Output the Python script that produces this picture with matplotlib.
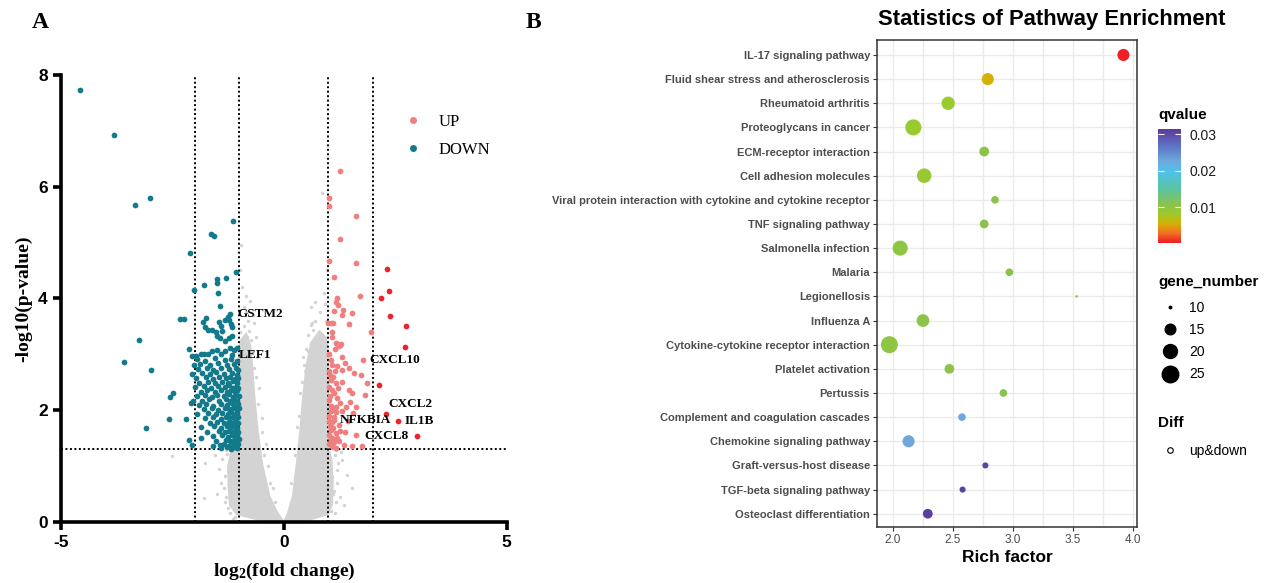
import numpy as np
import matplotlib.pyplot as plt
from matplotlib.colors import LinearSegmentedColormap, Normalize
from matplotlib.cm import ScalarMappable
from matplotlib.lines import Line2D

plt.rcParams["mathtext.fontset"] = "custom"
plt.rcParams["mathtext.rm"] = "Liberation Serif:bold"
plt.rcParams["mathtext.it"] = "Liberation Serif:bold"
plt.rcParams["mathtext.bf"] = "Liberation Serif:bold"
plt.rcParams["axes.unicode_minus"] = False

# ---------------- Panel A: volcano ----------------
down_points = [
    (-4.57, 7.73), (-3.81, 6.93), (-3.34, 5.68), (-3.01, 5.79), (-1.14, 5.38), (-1.63, 5.16), (-1.57, 5.12),
    (-2.10, 4.81), (-1.08, 4.48), (-1.29, 4.36), (-1.50, 4.34), (-1.50, 4.27), (-1.79, 4.24), (-2.01, 4.15),
    (-1.47, 4.10), (-1.44, 3.87), (-2.34, 3.63), (-2.24, 3.63), (-1.74, 3.65), (-1.20, 3.72), (-1.25, 3.66),
    (-1.31, 3.61), (-1.81, 3.57), (-1.76, 3.49), (-1.70, 3.44), (-1.62, 3.44), (-1.46, 3.58), (-1.42, 3.50),
    (-1.38, 3.42), (-1.23, 3.61), (-1.18, 3.54), (-1.16, 3.49), (-1.44, 3.29), (-1.23, 3.29), (-1.31, 3.23),
    (-1.16, 3.32), (-1.53, 3.40), (-1.50, 3.32), (-2.13, 3.09), (-1.12, 3.08), (-1.05, 3.11), (-2.05, 2.97),
    (-1.97, 2.96), (-1.86, 3.00), (-1.79, 3.01), (-1.70, 3.00), (-1.61, 3.05), (-1.50, 3.08), (-1.42, 3.00),
    (-1.31, 3.05), (-1.20, 3.11), (-1.17, 2.99),
    (-3.25, 3.26), (-3.59, 2.86), (-2.97, 2.71), (-2.49, 2.31), (-2.56, 2.23), (-2.58, 1.84), (-2.19, 1.84),
    (-2.09, 2.13), (-2.04, 2.17), (-3.09, 1.68), (-2.13, 1.47), (-2.07, 1.38), (-1.86, 1.50), (-1.60, 1.35),
    (-1.95, 2.91), (-1.78, 2.88), (-1.55, 2.93), (-1.33, 2.89), (-1.18, 2.92), (-1.05, 2.87),
    (-2.02, 2.80), (-1.88, 2.83), (-1.65, 2.81), (-1.48, 2.84), (-1.27, 2.80), (-1.12, 2.83),
    (-1.92, 2.73), (-1.72, 2.76), (-1.58, 2.72), (-1.40, 2.75), (-1.22, 2.73), (-1.08, 2.76), (-1.02, 2.71),
    (-2.05, 2.65), (-1.84, 2.67), (-1.66, 2.64), (-1.52, 2.68), (-1.35, 2.65), (-1.17, 2.67), (-1.06, 2.63),
    (-1.96, 2.57), (-1.75, 2.59), (-1.60, 2.56), (-1.45, 2.59), (-1.30, 2.57), (-1.20, 2.60), (-1.10, 2.56), (-1.03, 2.58),
    (-1.90, 2.49), (-1.70, 2.51), (-1.55, 2.48), (-1.38, 2.51), (-1.25, 2.49), (-1.13, 2.52), (-1.05, 2.48),
    (-2.00, 2.41), (-1.80, 2.43), (-1.63, 2.40), (-1.48, 2.43), (-1.32, 2.41), (-1.22, 2.44), (-1.15, 2.40), (-1.08, 2.42), (-1.02, 2.39),
    (-1.87, 2.33), (-1.72, 2.35), (-1.55, 2.32), (-1.40, 2.35), (-1.28, 2.33), (-1.18, 2.36), (-1.10, 2.32), (-1.04, 2.35),
    (-1.95, 2.25), (-1.78, 2.27), (-1.62, 2.24), (-1.50, 2.27), (-1.35, 2.25), (-1.24, 2.28), (-1.15, 2.24), (-1.07, 2.27), (-1.01, 2.25),
    (-1.83, 2.17), (-1.68, 2.19), (-1.45, 2.16), (-1.30, 2.19), (-1.20, 2.17), (-1.12, 2.20), (-1.05, 2.16),
    (-1.90, 2.09), (-1.74, 2.11), (-1.58, 2.08), (-1.40, 2.11), (-1.27, 2.09), (-1.17, 2.12), (-1.09, 2.08), (-1.03, 2.11),
    (-1.80, 2.01), (-1.62, 2.03), (-1.48, 2.00), (-1.33, 2.03), (-1.22, 2.01), (-1.14, 2.04), (-1.06, 2.00), (-1.01, 2.03),
    (-1.95, 1.93), (-1.70, 1.95), (-1.52, 1.92), (-1.38, 1.95), (-1.26, 1.93), (-1.18, 1.96), (-1.10, 1.92), (-1.04, 1.95),
    (-1.76, 1.85), (-1.58, 1.87), (-1.42, 1.84), (-1.30, 1.87), (-1.20, 1.85), (-1.13, 1.88), (-1.07, 1.84), (-1.02, 1.87),
    (-1.66, 1.77), (-1.50, 1.79), (-1.35, 1.76), (-1.24, 1.79), (-1.16, 1.77), (-1.09, 1.80), (-1.03, 1.76),
    (-1.85, 1.69), (-1.56, 1.71), (-1.40, 1.68), (-1.28, 1.71), (-1.19, 1.69), (-1.12, 1.72), (-1.05, 1.68),
    (-1.72, 1.61), (-1.46, 1.63), (-1.33, 1.60), (-1.22, 1.63), (-1.14, 1.61), (-1.08, 1.64), (-1.02, 1.60),
    (-1.60, 1.53), (-1.38, 1.55), (-1.26, 1.52), (-1.17, 1.55), (-1.10, 1.53), (-1.04, 1.56),
    (-1.52, 1.45), (-1.30, 1.47), (-1.20, 1.44), (-1.12, 1.47), (-1.06, 1.45), (-1.01, 1.48),
    (-1.44, 1.37), (-1.34, 1.39), (-1.24, 1.36), (-1.15, 1.39), (-1.08, 1.37), (-1.03, 1.40),
    (-1.40, 1.32), (-1.28, 1.33), (-1.18, 1.31), (-1.11, 1.33), (-1.05, 1.32),
]

up_points = [
    (1.27, 6.28), (1.01, 5.79), (1.01, 5.65), (1.61, 5.47), (1.26, 5.06), (1.01, 4.67), (1.61, 4.64),
    (1.12, 4.39), (1.70, 4.05), (1.19, 4.00), (1.17, 3.94), (1.22, 3.88), (1.32, 3.80), (1.31, 3.71),
    (1.52, 3.74), (1.13, 3.78), (1.46, 3.54), (1.05, 3.56), (1.10, 3.56), (1.08, 3.39), (1.07, 3.31),
    (1.20, 3.19), (1.29, 3.18), (1.23, 3.14), (1.14, 3.10), (1.96, 3.39), (1.31, 2.95), (1.05, 2.90),
    (1.77, 2.89), (1.08, 2.81), (1.19, 2.78), (1.31, 2.72), (1.46, 2.75), (1.57, 2.66), (1.72, 2.63),
    (1.05, 2.54), (1.16, 2.48), (1.31, 2.51), (1.87, 2.48), (1.08, 2.36), (1.46, 2.36), (1.53, 2.30),
    (1.83, 2.27), (1.01, 2.18), (1.20, 2.21), (1.27, 2.12), (1.49, 2.15), (1.05, 1.98), (1.16, 1.96),
    (1.31, 1.98), (1.01, 1.81), (1.08, 1.79), (1.12, 1.82), (1.23, 1.73), (1.05, 1.64), (1.16, 1.58),
    (1.38, 1.61), (1.61, 1.55), (1.05, 1.47), (1.23, 1.44), (1.34, 1.38), (1.53, 1.35), (1.75, 1.35),
    (1.08, 1.35), (1.16, 1.32), (1.02, 2.70), (1.03, 2.62), (1.10, 2.60), (1.02, 2.42), (1.12, 2.30),
    (1.03, 2.25), (1.06, 2.08), (1.10, 2.02), (1.02, 1.90), (1.12, 1.88), (1.04, 1.72), (1.10, 1.68),
    (1.02, 1.55), (1.09, 1.50), (1.02, 1.40), (1.12, 1.42), (1.20, 1.50), (1.25, 1.62), (1.18, 2.05),
    (1.22, 2.40), (1.14, 2.70), (1.40, 2.05), (1.38, 2.85), (1.62, 2.05), (1.45, 1.80), (1.55, 1.95),
    (1.00, 3.55), (1.16, 3.20), (1.27, 3.17), (1.02, 3.00), (1.10, 1.34),
]

strong_up_points = [
    (2.32, 4.52), (2.36, 4.14), (2.18, 4.00), (2.38, 3.69), (2.74, 3.51), (2.72, 3.12),
    (2.13, 2.45), (2.29, 1.93), (2.56, 1.81), (2.99, 1.53),
]

# dense cloud of non-significant genes: outline of each lobe (x, y)
cloud_left_x = [-0.04, -0.6, -1.05, -1.2, -1.23, -1.24, -1.17, -1.0, -1.0, -0.95, -0.85, -0.76,
                -0.72, -0.67, -0.60, -0.50, -0.33, -0.15, -0.04]
cloud_left_y = [0.0, 0.05, 0.14, 0.3, 0.6, 1.0, 1.25, 1.3, 3.0, 3.25, 3.35, 3.15,
                2.8, 2.24, 1.65, 1.05, 0.45, 0.15, 0.03]
cloud_right_x = [0.04, 0.6, 0.98, 1.07, 1.09, 1.06, 1.0, 0.99, 0.93, 0.8, 0.62,
                 0.52, 0.44, 0.38, 0.30, 0.21, 0.10, 0.03]
cloud_right_y = [0.0, 0.05, 0.14, 0.3, 0.7, 1.1, 1.3, 3.0, 3.3, 3.4, 3.2,
                 2.8, 2.24, 1.65, 1.05, 0.45, 0.15, 0.03]

ns_points = [
    (-2.51, 1.17), (-1.76, 1.05), (-1.79, 0.43), (1.42, 0.84), (1.53, 0.60), (1.19, 0.93), (-1.31, 0.81),
    (-1.38, 1.12), (-1.45, 0.95), (-1.30, 0.45), (-1.28, 1.22), (1.15, 1.20), (1.22, 1.05), (1.12, 0.55),
    (1.18, 0.35), (-1.25, 0.25), (-1.35, 0.60), (1.30, 1.10), (-1.55, 1.20), (-1.25, 0.90), (-1.20, 0.15),
    (-1.10, 0.08), (1.05, 0.20), (1.10, 0.50), (1.08, 0.80),
    (-0.96, 4.96), (-0.75, 3.96), (-0.89, 3.50), (-0.82, 3.30), (-0.92, 3.15), (-0.70, 3.05), (-0.86, 3.75),
    (-0.95, 4.20), (-0.80, 3.60), (-0.98, 3.40), (-0.73, 3.25), (-0.90, 2.95), (-0.85, 3.12), (-0.78, 3.42),
    (0.86, 5.88), (0.71, 3.94), (0.64, 3.55), (0.60, 3.52), (0.65, 3.43), (0.78, 3.20), (0.55, 3.05),
    (0.90, 3.30), (0.72, 3.00), (0.85, 2.95), (0.95, 3.60), (0.58, 2.85), (0.68, 2.90), (0.80, 3.05),
    (-0.45, 1.20), (-0.50, 1.60), (-0.58, 2.10), (-0.62, 2.60), (-0.30, 0.70), (0.25, 0.80), (0.32, 1.30),
    (0.35, 1.90), (0.40, 2.50), (0.45, 2.80), (-0.20, 0.35), (0.15, 0.35), (-0.68, 2.75), (0.48, 2.70),
    (-0.62, 3.30), (-0.68, 3.55), (-0.90, 3.85), (-0.98, 4.50), (-0.84, 4.05), (-0.70, 3.70), (-0.60, 2.95),
    (-0.55, 2.40), (-0.48, 1.85), (-0.40, 1.40), (-0.35, 1.00), (-0.25, 0.60), (-1.30, 1.28), (-1.40, 0.70),
    (-1.33, 0.35), (-1.50, 0.50), (-1.15, 0.05), (0.55, 3.35), (0.50, 3.10), (0.70, 3.60), (0.82, 3.75),
    (0.90, 4.10), (0.97, 4.50), (0.42, 2.95), (0.36, 2.30), (0.30, 1.70), (0.24, 1.20), (0.17, 0.70),
    (1.15, 0.15), (1.20, 0.70), (1.25, 0.45), (1.35, 0.30), (1.17, 1.28), (1.28, 1.25), (0.93, 3.90),
    (0.60, 3.85),
]

label_genes = ["GSTM2", "LEF1", "NFKBIA", "CXCL10", "CXCL2", "IL1B", "CXCL8"]
label_x = [-1.20, -1.17, 1.12, 1.77, 2.29, 2.56, 2.99]
label_y = [3.72, 2.99, 1.82, 2.89, 1.93, 1.81, 1.53]

# ---------------- Panel B: KEGG enrichment ----------------
pathways = [
    "IL-17 signaling pathway",
    "Fluid shear stress and atherosclerosis",
    "Rheumatoid arthritis",
    "Proteoglycans in cancer",
    "ECM-receptor interaction",
    "Cell adhesion molecules",
    "Viral protein interaction with cytokine and cytokine receptor",
    "TNF signaling pathway",
    "Salmonella infection",
    "Malaria",
    "Legionellosis",
    "Influenza A",
    "Cytokine-cytokine receptor interaction",
    "Platelet activation",
    "Pertussis",
    "Complement and coagulation cascades",
    "Chemokine signaling pathway",
    "Graft-versus-host disease",
    "TGF-beta signaling pathway",
    "Osteoclast differentiation",
]
rich_factor = [3.92, 2.79, 2.46, 2.17, 2.76, 2.26, 2.85, 2.76, 2.06, 2.97,
               3.53, 2.25, 1.97, 2.47, 2.92, 2.575, 2.13, 2.77, 2.58, 2.29]
gene_number = [17, 17, 19, 24, 14, 21, 12, 13, 22, 12,
               10, 18, 26, 14, 12, 12, 17, 11, 11, 14]
qvalue = [0.0004, 0.0055, 0.0085, 0.0085, 0.0105, 0.0088, 0.0105, 0.0105, 0.0100, 0.0108,
          0.0105, 0.0103, 0.0100, 0.0103, 0.0108, 0.0228, 0.0228, 0.0305, 0.0307, 0.0312]
size_breaks = [10, 15, 20, 25]


def dot_diam(v):
    # diameter in pixels, area-style scale like ggplot
    return 2.5 + 14.5 * np.sqrt((np.asarray(v, dtype=float) - 10) / 16)


q_cmap = LinearSegmentedColormap.from_list("q", [
    (0.0, "#ee1c25"), (0.09, "#f27321"), (0.17, "#d4b106"), (0.26, "#9acb2e"),
    (0.33, "#8bc34a"), (0.47, "#5cc3a0"), (0.63, "#4fc1ec"), (0.72, "#6fa8dc"),
    (0.83, "#5e7cc8"), (1.0, "#5b3a9b")])
q_norm = Normalize(vmin=0.0002, vmax=0.0315)

W, H = 1271, 583
fig = plt.figure(figsize=(12.71, 5.83), dpi=100)
serif = "Liberation Serif"
sans = "Liberation Sans"

# ---- A ----
axA = fig.add_axes([61 / W, 61.3 / H, 445.7 / W, 446.7 / H])

gray = "#d3d3d3"
axA.fill(cloud_left_x, cloud_left_y, color=gray, lw=2, ec=gray, zorder=1)
axA.fill(cloud_right_x, cloud_right_y, color=gray, lw=2, ec=gray, zorder=1)
nx, ny = zip(*ns_points)
axA.scatter(nx, ny, s=6, color=gray, lw=0, zorder=1)

dots = (0, (1, 1.3))
for xv in [-2, -1, 1, 2]:
    axA.axvline(xv, color="black", ls=dots, lw=1.4, zorder=2)
axA.axhline(-np.log10(0.05), color="black", ls=dots, lw=1.4, zorder=2)

dx, dy = zip(*down_points)
ux, uy = zip(*up_points)
sx, sy = zip(*strong_up_points)
axA.scatter(dx, dy, s=17, color="#137a8c", lw=0, zorder=3)
axA.scatter(ux, uy, s=17, color="#f08080", lw=0, zorder=3)
axA.scatter(sx, sy, s=17, color="#e8262a", lw=0, zorder=3)

label_style = dict(fontsize=9.5, fontweight="bold", family=serif, va="center", zorder=4)
offsets = {"GSTM2": (5, 0, "left"), "LEF1": (5, 0, "left"), "NFKBIA": (4, 0, "left"),
           "CXCL10": (5, 0, "left"), "CXCL2": (2, 7, "left"), "IL1B": (5, 0, "left"),
           "CXCL8": (-6, 0, "right")}
for g, gx, gy in zip(label_genes, label_x, label_y):
    ox, oy, ha = offsets[g]
    axA.annotate(g, (gx, gy), xytext=(ox, oy), textcoords="offset points", ha=ha, **label_style)

axA.set_xlim(-5, 5)
axA.set_ylim(0, 8)
axA.set_xticks([-5, 0, 5])
axA.set_yticks([0, 2, 4, 6, 8])
for sp in ["top", "right"]:
    axA.spines[sp].set_visible(False)
for sp in ["left", "bottom"]:
    axA.spines[sp].set_linewidth(2.6)
axA.tick_params(width=2.6, length=6, labelsize=12.5)
for lab in axA.get_xticklabels() + axA.get_yticklabels():
    lab.set_fontweight("bold")
    lab.set_family(sans)
axA.set_xlabel("log$_2$(fold change)", fontsize=14, fontweight="bold", family=serif, labelpad=8)
axA.set_ylabel("-log10(p-value)", fontsize=14, fontweight="bold", family=serif, labelpad=4)

leg_handles = [Line2D([], [], ls="", marker="o", ms=4, color="#f08080"),
               Line2D([], [], ls="", marker="o", ms=4, color="#137a8c")]
axA.legend(leg_handles, ["UP", "DOWN"], loc="upper left", bbox_to_anchor=(0.728, 0.947),
           frameon=False, prop={"family": serif, "size": 12}, handletextpad=0.8,
           labelspacing=0.73, handlelength=1.5)

fig.text(40 / W, 1 - 22 / H, "A", fontsize=17, fontweight="bold", family=serif, ha="center", va="center")
fig.text(533 / W, 1 - 22 / H, "B", fontsize=17, fontweight="bold", family=serif, ha="center", va="center")

# ---- B ----
axB = fig.add_axes([877 / W, 56 / H, 260 / W, 487 / H])
ypos = np.arange(len(pathways))
sizes = (dot_diam(gene_number) * 0.72) ** 2
axB.scatter(rich_factor, ypos, s=sizes, c=qvalue, cmap=q_cmap, norm=q_norm, lw=0, zorder=3)
axB.set_yticks(ypos)
axB.set_yticklabels(pathways)
axB.set_ylim(len(pathways) - 1 + 0.55, -0.62)
axB.set_xlim(1.867, 4.033)
axB.set_xticks([2.0, 2.5, 3.0, 3.5, 4.0])
axB.set_xticks([2.25, 2.75, 3.25, 3.75], minor=True)
axB.grid(True, which="both", color="#ebebeb", lw=1.0, zorder=0)
axB.set_axisbelow(True)
for sp in axB.spines.values():
    sp.set_color("#333333")
    sp.set_linewidth(1.1)
axB.tick_params(which="major", length=3, color="#333333", width=0.8)
axB.tick_params(which="minor", length=0)
axB.tick_params(axis="y", labelsize=8, labelcolor="#4d4d4d", pad=2)
axB.tick_params(axis="x", labelsize=8.5, labelcolor="#4d4d4d", pad=2)
for lab in axB.get_yticklabels():
    lab.set_fontweight("bold")
    lab.set_family(sans)
for lab in axB.get_xticklabels():
    lab.set_family(sans)
axB.set_xlabel("Rich factor", fontsize=12.5, fontweight="bold", family=sans, labelpad=3)
fig.text(878 / W, 1 - 20 / H, "Statistics of Pathway Enrichment", fontsize=15.8,
         fontweight="bold", family=sans, ha="left", va="center")

# colour bar legend
cax = fig.add_axes([1158 / W, (H - 243) / H, 23 / W, 114 / H])
cb = fig.colorbar(ScalarMappable(norm=q_norm, cmap=q_cmap), cax=cax, ticks=[0.01, 0.02, 0.03])
cb.outline.set_visible(False)
cax.tick_params(color="white", length=4, width=0.8, direction="in", left=True, right=True,
                labelsize=10, pad=6)
cax.set_yticklabels(["0.01", "0.02", "0.03"], family=sans, color="#1a1a1a")
title_style = dict(fontsize=11, fontweight="bold", family=sans, ha="left", va="center")
fig.text(1158 / W, 1 - 115 / H, "qvalue", **title_style)
fig.text(1158 / W, 1 - 282 / H, "gene_number", **title_style)
fig.text(1158 / W, 1 - 423 / H, "Diff", **title_style)

size_handles = [Line2D([], [], ls="", marker="o", color="black", ms=float(dot_diam(v)) * 0.72)
                for v in size_breaks]
fig.legend(size_handles, [str(v) for v in size_breaks], loc="center left",
           bbox_to_anchor=(1146 / W, 1 - 341 / H), frameon=False,
           prop={"family": sans, "size": 10}, labelspacing=0.6,
           handletextpad=0.6, handlelength=1.6)
diff_handles = [Line2D([], [], ls="", marker="o", mfc="none", mec="black", mew=0.8, ms=4)]
fig.legend(diff_handles, ["up&down"], loc="center left",
           bbox_to_anchor=(1146 / W, 1 - 451 / H), frameon=False,
           prop={"family": sans, "size": 10}, handletextpad=0.6, handlelength=1.6)

fig.savefig("out.png", dpi=100)
